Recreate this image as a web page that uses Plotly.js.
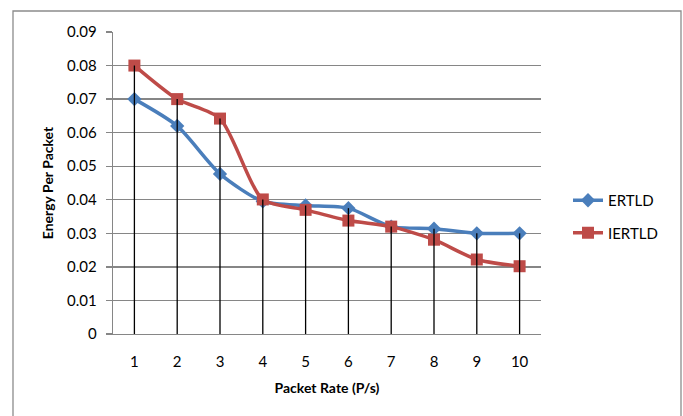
<!DOCTYPE html>
<html>
<head>
<meta charset="utf-8">
<script src="https://cdn.plot.ly/plotly-3.0.1.min.js"></script>
<style>
html,body{margin:0;padding:0;background:#fff;}
#chart{width:683px;height:416px;}
</style>
</head>
<body>
<div id="chart"></div>
<script>
var packetRate = [1, 2, 3, 4, 5, 6, 7, 8, 9, 10];
var ertld = [0.070, 0.062, 0.0477, 0.0395, 0.0383, 0.0375, 0.0320, 0.0314, 0.0300, 0.0300];
var iertld = [0.080, 0.070, 0.0642, 0.0401, 0.0370, 0.0338, 0.0320, 0.0281, 0.0222, 0.0202];
var yTicks = [0, 0.01, 0.02, 0.03, 0.04, 0.05, 0.06, 0.07, 0.08, 0.09];
var yTickText = ['0', '0.01', '0.02', '0.03', '0.04', '0.05', '0.06', '0.07', '0.08', '0.09'];

var dropX = [], dropY = [];
for (var i = 0; i < packetRate.length; i++) {
  dropX.push(packetRate[i], packetRate[i], null);
  dropY.push(0, Math.max(ertld[i], iertld[i]), null);
}

var font = 'Lato, "Open Sans", sans-serif';

var traces = [
  {
    x: packetRate, y: ertld, name: 'ERTLD', type: 'scatter', mode: 'lines+markers',
    line: {color: '#4A7EBB', width: 3.5, shape: 'spline', smoothing: 0.7},
    marker: {symbol: 'diamond', size: 11, color: '#4A7EBB'},
    legendgroup: 'a'
  },
  {
    x: packetRate, y: iertld, name: 'IERTLD', type: 'scatter', mode: 'lines+markers',
    line: {color: '#BE4B48', width: 3.5, shape: 'spline', smoothing: 0.7},
    marker: {symbol: 'square', size: 12, color: '#BE4B48'},
    legendgroup: 'b'
  },
  {
    x: dropX, y: dropY, type: 'scatter', mode: 'lines', showlegend: false,
    line: {color: '#000000', width: 1.3}, hoverinfo: 'skip'
  }
];

var pw = 428, ph = 302;
var layout = {
  width: 683, height: 416,
  margin: {l: 113, r: 142, t: 32, b: 82},
  paper_bgcolor: '#ffffff', plot_bgcolor: '#ffffff',
  font: {family: font, size: 15, color: '#000000'},
  showlegend: true,
  legend: {
    x: (568 - 113) / pw, xanchor: 'left',
    y: (334 - 184) / ph, yanchor: 'top',
    font: {family: font, size: 15, color: '#000'},
    tracegroupgap: 10, bgcolor: 'rgba(0,0,0,0)'
  },
  xaxis: {
    range: [0.5, 10.5],
    tickvals: packetRate, ticktext: packetRate.map(String),
    showgrid: false, zeroline: false,
    showline: true, linecolor: '#868686', linewidth: 1.3,
    ticks: '', ticklabelstandoff: 14,
    tickfont: {family: font, size: 15},
    title: {text: '<b>Packet Rate (P/s)</b>', font: {family: font, size: 14}, standoff: 14}
  },
  yaxis: {
    range: [0, 0.09],
    tickvals: yTicks, ticktext: yTickText,
    showgrid: true, gridcolor: '#868686', gridwidth: 1.3,
    zeroline: false,
    showline: true, linecolor: '#868686', linewidth: 1.3,
    ticks: 'outside', ticklen: 6, tickcolor: '#868686', tickwidth: 1.3,
    ticklabelstandoff: 6,
    tickfont: {family: font, size: 15},
    title: {text: '<b>Energy Per Packet</b>', font: {family: font, size: 14}, standoff: 10}
  },
  shapes: [
    {
      type: 'rect', xref: 'paper', yref: 'paper',
      x0: (13 - 113) / pw, x1: (681 - 113) / pw,
      y0: (334 - 430) / ph, y1: (334 - 11) / ph,
      line: {color: '#8c8c8c', width: 1.3}, fillcolor: 'rgba(0,0,0,0)', layer: 'below'
    }
  ]
};

Plotly.newPlot('chart', traces, layout, {displayModeBar: false, staticPlot: true});
</script>
</body>
</html>
